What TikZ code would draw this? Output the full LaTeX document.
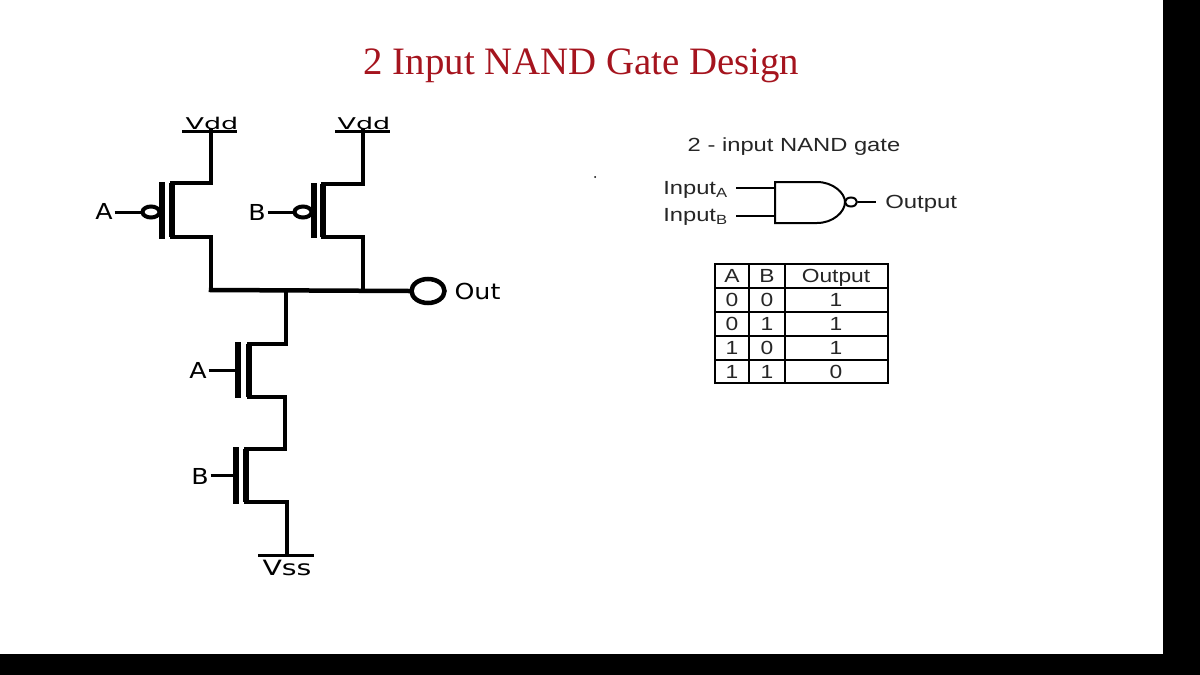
\documentclass[tikz,border=0pt]{standalone}
\usepackage{fontspec}
\setmainfont{Liberation Serif}
\setsansfont{Liberation Sans}
\newfontfamily\labelfont{DejaVu Sans}
\usetikzlibrary{positioning, shapes.geometric}
\definecolor{titlered}{HTML}{A5141E}
\tikzset{
    wire/.style={line width=4.5pt,line cap=rect},
    thin wire/.style={line width=3pt},
    channel/.style={line width=5.5pt},
    bubble/.style={ellipse,draw,line width=4pt,fill=white,inner sep=0pt,minimum width=17pt,minimum height=11pt},
    lbl/.style={font=\labelfont\fontsize{22}{22}\selectfont,inner sep=1.5pt,xscale=1.15,transform shape},
    rail/.style={font=\labelfont\fontsize{18}{18}\selectfont,inner sep=0pt,xscale=1.5,yscale=0.9,transform shape},
    txt/.style={font=\sffamily\fontsize{19}{19}\selectfont,text=black!85,inner sep=0pt},
    gateline/.style={line width=2pt},
    cell/.style={font=\sffamily\fontsize{19}{19}\selectfont,text=black!85,inner sep=0pt,anchor=base,xscale=1.2,transform shape}
}

\begin{document}
\begin{tikzpicture}[x=1pt,y=-1pt]
        \useasboundingbox (0,0) rectangle (1200,675);

        % frame
        \fill[black] (1163,0) rectangle (1200,675);
        \fill[black] (0,654) rectangle (1200,675);
        \fill (595,177) circle (1pt);

        \node (title) at (581.5,65.5) [font=\rmfamily\fontsize{38.8}{38.8}\selectfont,text=titlered,inner sep=0pt]{2 Input NAND Gate Design};

        % pull up pair
        \coordinate (railA) at (211,131);
        \coordinate (railB) at (363,131);
        \coordinate (topA) at (211,183);
        \coordinate (topB) at (363,184);
        \coordinate (drainA) at (172,183);
        \coordinate (drainB) at (323,184);
        \coordinate (sourceA) at (172,237);
        \coordinate (sourceB) at (323,237);
        \coordinate (botA) at (211,237);
        \coordinate (botB) at (363,237);
        \coordinate (jointA) at (211,290);
        \coordinate (jointB) at (363,290);
        \coordinate (mid) at (286,290);

        \node (vddA) at (212,123) [rail]{Vdd};
        \node (vddB) at (364,123) [rail]{Vdd};
        \draw[thin wire] (182,131) -- (237,131);
        \draw[thin wire] (335,131) -- (390,131);

        \draw[wire] (railA) -- (topA) -- (drainA);
        \draw[wire] (railB) -- (topB) -- (drainB);
        \draw[channel] (drainA) -- (sourceA);
        \draw[channel] (drainB) -- (sourceB);
        \draw[wire] (sourceA) -- (botA) -- (jointA);
        \draw[wire] (sourceB) -- (botB) -- (jointB);
        \draw[channel] (162,182) -- (162,239);
        \draw[channel] (314,183) -- (314,238);

        \node (inA) at (104,211) [lbl]{A};
        \node (inB) at (257,212) [lbl]{B};
        \node (bubA) at (151,212) [bubble]{};
        \node (bubB) at (303,212) [bubble]{};
        \draw[thin wire] (inA.east |- bubA.west) -- (bubA.west);
        \draw[thin wire] (inB.east |- bubB.west) -- (bubB.west);

        % output
        \node (outpin) at (428,291) [ellipse,draw,line width=4.5pt,inner sep=0pt,minimum width=33pt,minimum height=24pt]{};
        \node (outlbl) at (477.5,291) [lbl]{Out};
        \draw[wire] (jointA) -- (outpin.west);

        % pull down pair
        \coordinate (upperC) at (286,344);
        \coordinate (drainC) at (249,344);
        \coordinate (sourceC) at (249,397);
        \coordinate (upperD) at (285,397);
        \coordinate (lowerD) at (285,449);
        \coordinate (drainD) at (246,449);
        \coordinate (sourceD) at (246,502);
        \coordinate (lowerE) at (287,502);
        \coordinate (railC) at (287,555);

        \draw[wire] (mid) -- (upperC) -- (drainC);
        \draw[channel] (drainC) -- (sourceC);
        \draw[wire] (sourceC) -- (upperD) -- (lowerD) -- (drainD);
        \draw[channel] (drainD) -- (sourceD);
        \draw[wire] (sourceD) -- (lowerE) -- (railC);
        \draw[channel] (238,342) -- (238,398);
        \draw[channel] (236,447) -- (236,504);
        \draw[thin wire] (258,555) -- (314,555);

        \node (inC) at (198,370) [lbl]{A};
        \node (inD) at (200,476) [lbl]{B};
        \coordinate (gateC) at (238,370);
        \coordinate (gateD) at (236,475);
        \draw[thin wire] (inC.east) -- (gateC);
        \draw[thin wire] (inD.east |- gateD) -- (gateD);
        \node (vss) at (287,568) [rail,yscale=1.3,xscale=1.05]{Vss};

        % gate symbol
        \node (gatetitle) at (794,147) [txt,xscale=1.25,transform shape]{2 - input NAND gate};
        \node (inputA) at (663,190) [txt,anchor=west,xscale=1.25,transform shape]{Input\textsubscript{A}};
        \node (inputB) at (663,217) [txt,anchor=west,xscale=1.25,transform shape]{Input\textsubscript{B}};
        \coordinate (pinA) at (775,188);
        \coordinate (pinB) at (775,216);
        \draw[gateline] (736,188) -- (pinA);
        \draw[gateline] (736,216) -- (pinB);
        \draw[gateline] (775,182) -- (817,182) .. controls (833,182) and (845,193) .. (845,202) .. controls (845,212) and (833,223) .. (817,223) -- (775,223) -- cycle;
        \node (gatebub) at (851,202) [ellipse,draw,line width=2pt,inner sep=0pt,minimum width=12pt,minimum height=9pt]{};
        \node (outtxt) at (885,204) [txt,anchor=west,xscale=1.26,transform shape]{Output};
        \coordinate (outend) at (876,202);
        \draw[gateline] (gatebub.east) -- (outend);

        % truth table
        \draw[line width=2.5pt] (715,264) rectangle (888,383);
        \foreach \i in {288,312,336,360}
        \draw[line width=2.5pt] (715,\i) -- (888,\i);
        \foreach \i in {749,785}
        \draw[line width=2.5pt] (\i,264) -- (\i,383);

        \foreach \i/\a/\b/\o in {276/A/B/Output, 300/0/0/1, 324/0/1/1, 348/1/0/1, 372/1/1/0}{
            \node (a\i) at (732,\i+6.5) [cell]{\a};
            \node (b\i) at (767,\i+6.5) [cell]{\b};
            \node (o\i) at (836,\i+6.5) [cell]{\o};
        }
    \end{tikzpicture}
\end{document}
